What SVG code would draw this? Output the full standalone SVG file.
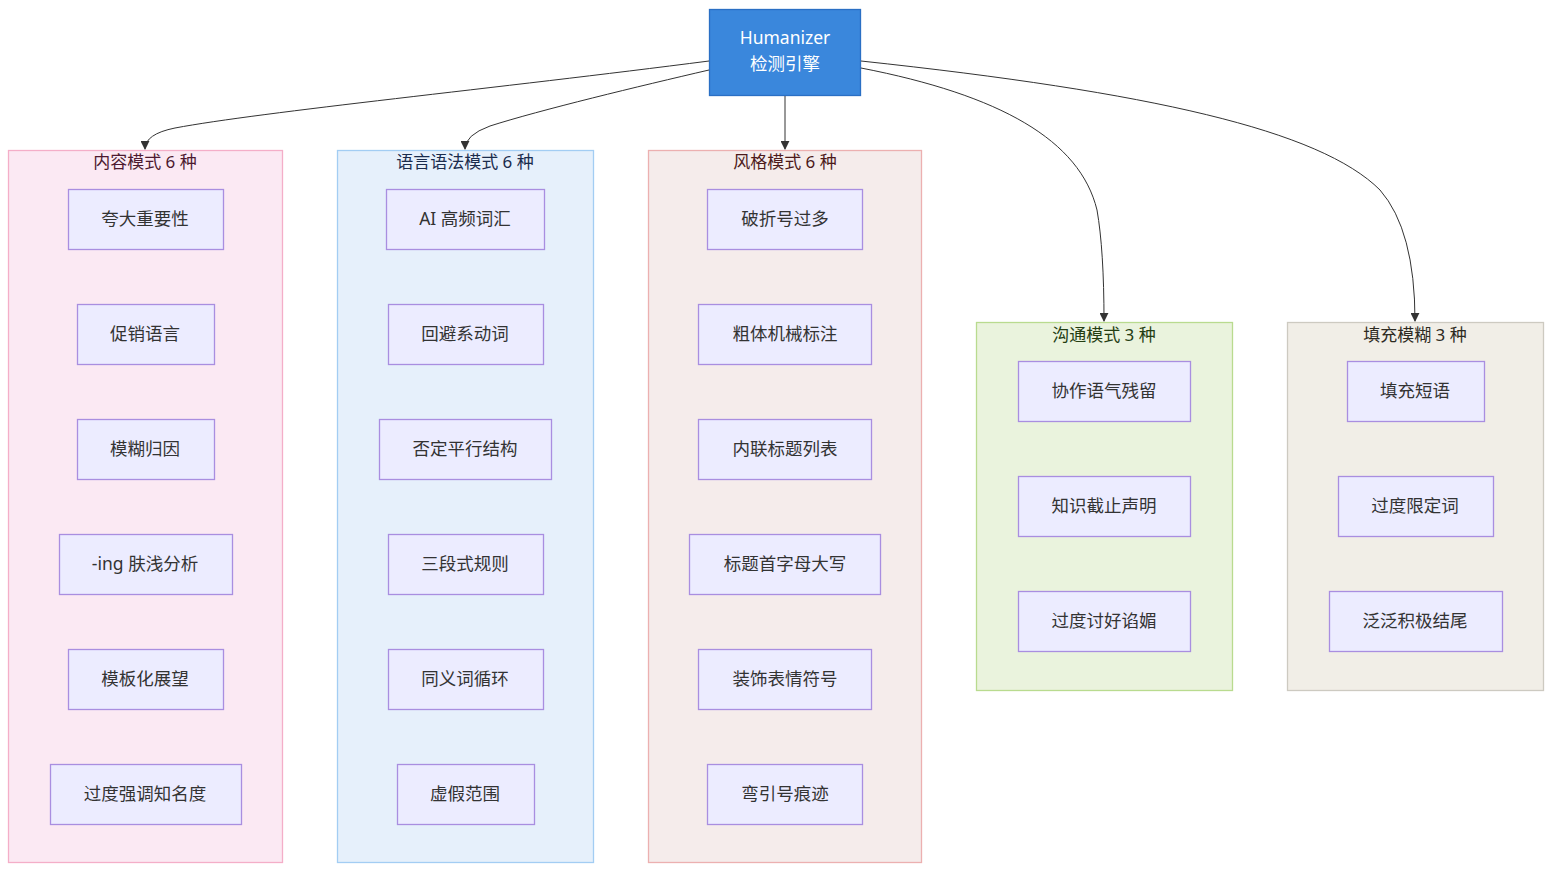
<svg xmlns="http://www.w3.org/2000/svg" width="1568" height="882" viewBox="0 0 1568 882">
<defs>
<marker id="arr" viewBox="0 0 10 10" refX="9" refY="5" markerWidth="9" markerHeight="9" markerUnits="userSpaceOnUse" orient="auto">
<path d="M0,0 L10,5 L0,10 z" fill="#333"/>
</marker>
<style>
text{font-family:"Noto Sans","Noto Sans CJK SC",sans-serif;font-size:17.5px;text-anchor:middle}
.n rect{fill:#ececff;stroke:#a98ee0;stroke-width:1.3}
.n text{fill:#333}
.ct{font-size:17px}
.e{fill:none;stroke:#333;stroke-width:1;marker-end:url(#arr)}
</style>
</defs>
<rect width="1568" height="882" fill="#fff"/>

<g id="cluster-content">
<rect x="8.5" y="150.5" width="274" height="712" fill="#fbe9f3" stroke="#f4aec8" stroke-width="1.3"/>
<text class="ct" x="145" y="168" fill="#4d1a30">内容模式 6 种</text>
</g>
<g id="cluster-lang">
<rect x="337.5" y="150.5" width="256" height="712" fill="#e6f0fb" stroke="#a3cdf3" stroke-width="1.3"/>
<text class="ct" x="465" y="168" fill="#1a2c4d">语言语法模式 6 种</text>
</g>
<g id="cluster-style">
<rect x="648.5" y="150.5" width="273" height="712" fill="#f5eceb" stroke="#ecb0b0" stroke-width="1.3"/>
<text class="ct" x="785" y="168" fill="#4d1a1a">风格模式 6 种</text>
</g>
<g id="cluster-comm">
<rect x="976.5" y="322.5" width="256" height="368" fill="#eaf3dd" stroke="#b9db8f" stroke-width="1.3"/>
<text class="ct" x="1104" y="341" fill="#243d12">沟通模式 3 种</text>
</g>
<g id="cluster-fill">
<rect x="1287.5" y="322.5" width="256" height="368" fill="#f1eee7" stroke="#cdcac1" stroke-width="1.3"/>
<text class="ct" x="1415" y="341" fill="#2d2a22">填充模糊 3 种</text>
</g>

<g id="root">
<rect x="709.5" y="9.5" width="151" height="86" fill="#3a87dc" stroke="#2a6fc4" stroke-width="1.3"/>
<text x="785" y="44" fill="#fff">Humanizer</text>
<text x="785" y="70" fill="#fff">检测引擎</text>
</g>

<g id="connectors">
<path class="e" d="M709,61 C500,88 260,112 175,128 Q145,134 145,149"/>
<path class="e" d="M709,70 C640,86 540,110 490,126 Q465,135 465,149"/>
<path class="e" d="M785,96 L785,149"/>
<path class="e" d="M861,68 C1000,95 1080,140 1097,210 Q1104,250 1104,321"/>
<path class="e" d="M861,61 C1150,92 1320,130 1380,190 Q1415,230 1415,321"/>
</g>

<g id="n1" class="n"><rect x="68.5" y="189.5" width="155" height="60"/><text x="145" y="225">夸大重要性</text></g>
<g id="n2" class="n"><rect x="77.5" y="304.5" width="137" height="60"/><text x="145" y="340">促销语言</text></g>
<g id="n3" class="n"><rect x="77.5" y="419.5" width="137" height="60"/><text x="145" y="455">模糊归因</text></g>
<g id="n4" class="n"><rect x="59.5" y="534.5" width="173" height="60"/><text x="145" y="570">-ing 肤浅分析</text></g>
<g id="n5" class="n"><rect x="68.5" y="649.5" width="155" height="60"/><text x="145" y="685">模板化展望</text></g>
<g id="n6" class="n"><rect x="50.5" y="764.5" width="191" height="60"/><text x="145" y="800">过度强调知名度</text></g>

<g id="n7" class="n"><rect x="386.5" y="189.5" width="158" height="60"/><text x="465" y="225">AI 高频词汇</text></g>
<g id="n8" class="n"><rect x="388.5" y="304.5" width="155" height="60"/><text x="465" y="340">回避系动词</text></g>
<g id="n9" class="n"><rect x="379.5" y="419.5" width="172" height="60"/><text x="465" y="455">否定平行结构</text></g>
<g id="n10" class="n"><rect x="388.5" y="534.5" width="155" height="60"/><text x="465" y="570">三段式规则</text></g>
<g id="n11" class="n"><rect x="388.5" y="649.5" width="155" height="60"/><text x="465" y="685">同义词循环</text></g>
<g id="n12" class="n"><rect x="397.5" y="764.5" width="137" height="60"/><text x="465" y="800">虚假范围</text></g>

<g id="n13" class="n"><rect x="707.5" y="189.5" width="155" height="60"/><text x="785" y="225">破折号过多</text></g>
<g id="n14" class="n"><rect x="698.5" y="304.5" width="173" height="60"/><text x="785" y="340">粗体机械标注</text></g>
<g id="n15" class="n"><rect x="698.5" y="419.5" width="173" height="60"/><text x="785" y="455">内联标题列表</text></g>
<g id="n16" class="n"><rect x="689.5" y="534.5" width="191" height="60"/><text x="785" y="570">标题首字母大写</text></g>
<g id="n17" class="n"><rect x="698.5" y="649.5" width="173" height="60"/><text x="785" y="685">装饰表情符号</text></g>
<g id="n18" class="n"><rect x="707.5" y="764.5" width="155" height="60"/><text x="785" y="800">弯引号痕迹</text></g>

<g id="n19" class="n"><rect x="1018.5" y="361.5" width="172" height="60"/><text x="1104" y="397">协作语气残留</text></g>
<g id="n20" class="n"><rect x="1018.5" y="476.5" width="172" height="60"/><text x="1104" y="512">知识截止声明</text></g>
<g id="n21" class="n"><rect x="1018.5" y="591.5" width="172" height="60"/><text x="1104" y="627">过度讨好谄媚</text></g>

<g id="n22" class="n"><rect x="1347.5" y="361.5" width="137" height="60"/><text x="1415" y="397">填充短语</text></g>
<g id="n23" class="n"><rect x="1338.5" y="476.5" width="155" height="60"/><text x="1415" y="512">过度限定词</text></g>
<g id="n24" class="n"><rect x="1329.5" y="591.5" width="173" height="60"/><text x="1415" y="627">泛泛积极结尾</text></g>
</svg>
